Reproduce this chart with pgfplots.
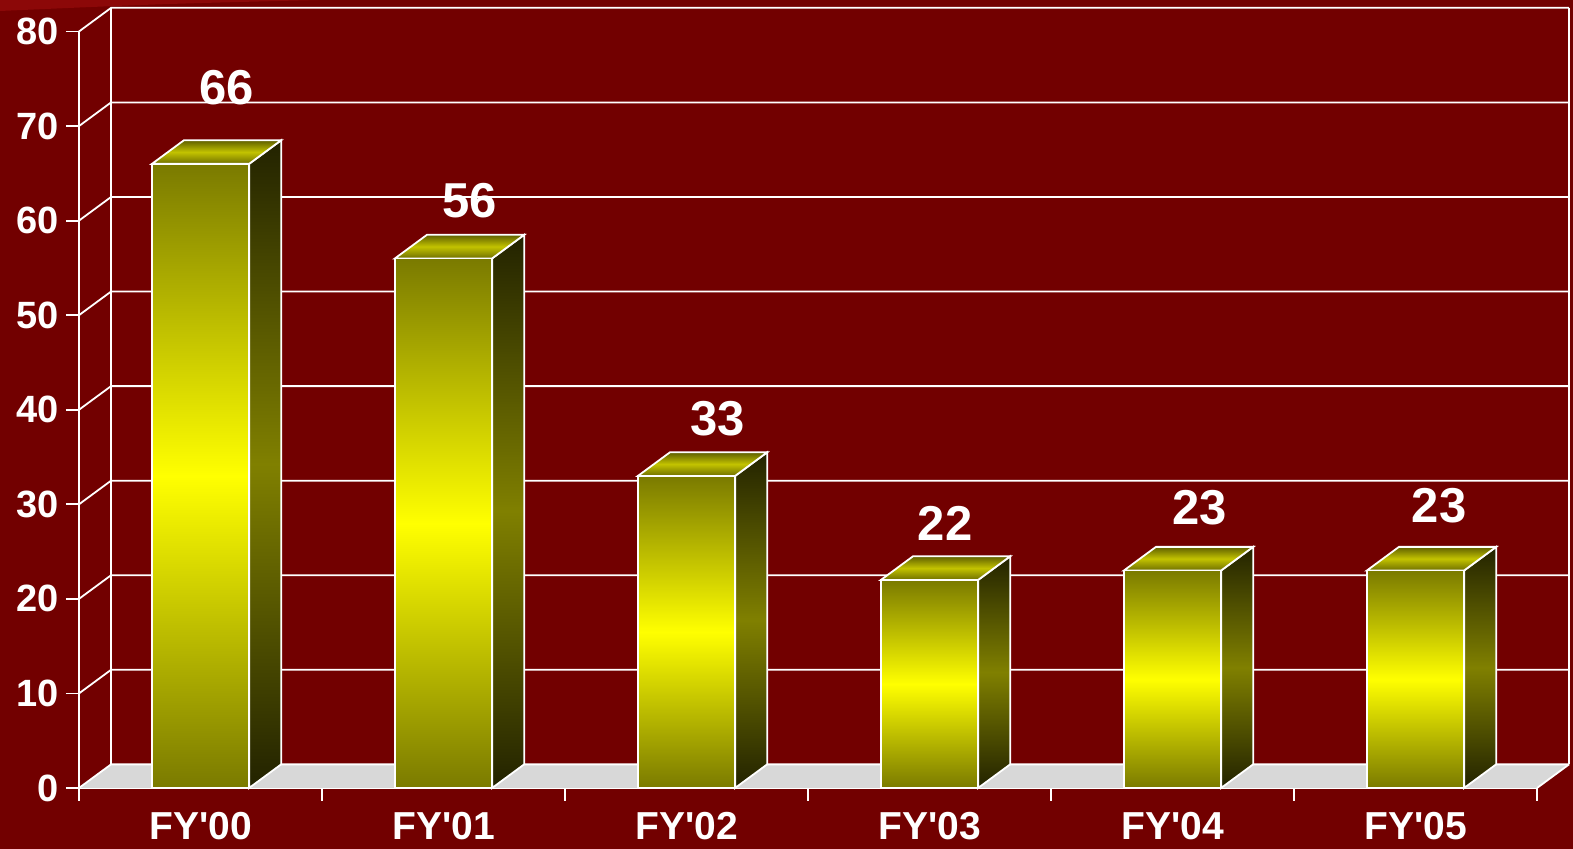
\documentclass[border=0pt]{standalone}
\usepackage{pgfplots}
\pgfplotsset{compat=1.18}
\usepackage{pgfplotstable}
\usepackage{fontspec}
\setmainfont{Liberation Sans}[Ligatures=TeXOff]
\definecolor{bg}{RGB}{114,0,0}
\definecolor{bgl}{RGB}{140,8,8}
\definecolor{olive1}{RGB}{122,122,0}
\definecolor{yel}{RGB}{255,255,0}
\definecolor{sidedark}{RGB}{34,34,0}
\definecolor{sidemid}{RGB}{128,128,0}
\definecolor{topdark}{RGB}{95,95,0}
\definecolor{topmid}{RGB}{195,195,0}
\definecolor{floorc}{RGB}{216,216,216}

\pgfplotstableread{
x y lx ly
0 66 0.109 74.1
1 56 1.109 62.1
2 33 2.128 39.1
3 22 3.064 28.0
4 23 4.111 29.6
5 23 5.097 29.9
}\bardata

\newcommand\ddx{0.132}
\newcommand\ddy{2.5}
\newcommand\bw{0.2}

\tikzset{
  frontface/.style={draw=white, line width=0.9pt, top color=olive1, bottom color=olive1, middle color=yel},
  sideface/.style={draw=white, line width=0.9pt, top color=sidedark, bottom color=sidedark, middle color=sidemid},
  topface/.style={draw=white, line width=0.9pt, top color=topdark, bottom color=topdark!90!yel, middle color=topmid},
}

\begin{document}
\begin{tikzpicture}[font=\bfseries]
\useasboundingbox (-39.5pt,-30.5pt) rectangle (747pt,394pt);
\fill[bg] (-39.5pt,-30.5pt) rectangle (747pt,394pt);
\fill[bgl] (-39.5pt,394pt) -- (-39.5pt,388.5pt) .. controls (40pt,392pt) .. (120pt,394pt) -- cycle;
\begin{axis}[
  at={(0,0)}, anchor=south west, scale only axis,
  width=729pt, height=378.25pt,
  xmin=-0.5, xmax=5.5, ymin=0, ymax=80, clip=false,
  axis x line*=bottom, axis y line*=left,
  axis line style={-, white, line width=0.9pt},
  tick style={white, line width=0.9pt},
  tick align=outside, major tick length=6.5pt,
  xtick={-0.5,0.5,...,5.5}, xticklabels={},
  extra x ticks={0,1,2,3,4,5},
  extra x tick labels={FY'00,FY'01,FY'02,FY'03,FY'04,FY'05},
  extra x tick style={major tick length=0pt},
  ytick={0,10,...,80},
  tick label style={text=white, /pgf/number format/assume math mode=true},
  yticklabel style={font=\fontsize{19}{19}\selectfont\bfseries, anchor=east},
  xticklabel style={font=\fontsize{19.5}{19.5}\selectfont\bfseries, anchor=base, inner sep=0pt, yshift=-25.8pt},
]
% floor
\fill[floorc] (axis cs:-0.5,0) -- (axis cs:5.5,0) -- (axis cs:5.632,2.5) -- (axis cs:-0.368,2.5) -- cycle;
% walls and grid
\pgfplotsinvokeforeach{0,10,...,80}{
  \draw[white, line width=0.9pt] (axis cs:-0.5,#1) -- (axis cs:-0.368,#1+2.5) -- (axis cs:5.632,#1+2.5);
}
\draw[white, line width=0.9pt] (axis cs:-0.368,2.5) -- (axis cs:-0.368,82.5);
\draw[white, line width=0.9pt] (axis cs:5.632,2.5) -- (axis cs:5.632,82.5);
\draw[white, line width=0.9pt] (axis cs:5.5,0) -- (axis cs:5.632,2.5);
% bars
\pgfplotsinvokeforeach{0,...,5}{
  \pgfplotstablegetelem{#1}{y}\of\bardata
  \pgfmathsetmacro\bv{\pgfplotsretval}
  \pgfmathsetmacro\bvb{\bv+\ddy}
  \pgfmathsetmacro\xl{#1-\bw}
  \pgfmathsetmacro\xr{#1+\bw}
  \pgfmathsetmacro\xlb{#1-\bw+\ddx}
  \pgfmathsetmacro\xrb{#1+\bw+\ddx}
  \edef\cmd{%
    \noexpand\addplot[sideface] coordinates {(\xr,0) (\xrb,\ddy) (\xrb,\bvb) (\xr,\bv)} -- cycle;
    \noexpand\addplot[topface] coordinates {(\xl,\bv) (\xr,\bv) (\xrb,\bvb) (\xlb,\bvb)} -- cycle;
    \noexpand\addplot[frontface] coordinates {(\xl,0) (\xr,0) (\xr,\bv) (\xl,\bv)} -- cycle;
  }%
  \cmd
}
% value labels
\addplot[draw=none, mark=none, nodes near coords, point meta=explicit,
  nodes near coords style={anchor=center, text=white, font=\fontsize{24.5}{24.5}\selectfont\bfseries, /pgf/number format/assume math mode=true}]
  table[x=lx, y=ly, meta=y]{\bardata};
\end{axis}
\end{tikzpicture}
\end{document}
